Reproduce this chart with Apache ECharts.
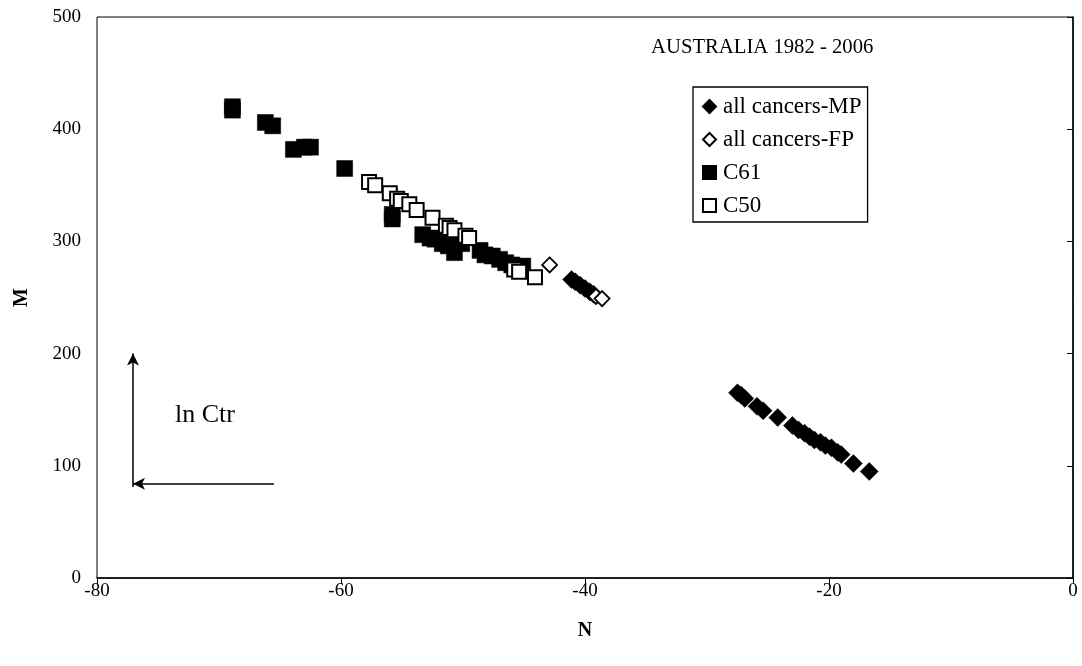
<!DOCTYPE html>
<html>
<head>
<meta charset="utf-8">
<script src="https://cdn.jsdelivr.net/npm/echarts@6/dist/echarts.min.js"></script>
<style>html,body{margin:0;padding:0;background:#fff}#c{width:1082px;height:666px}</style>
</head>
<body>
<div id="c"></div>
<script>
// Data: [N, M]
const allCancersMP = [
  [-41.1,266],[-40.8,264],[-40.4,261],[-40.0,258],[-39.6,255],[-39.3,253],
  [-27.5,165],[-27.2,163],[-26.9,160],[-25.9,153],[-25.4,149],[-24.2,143],[-23.0,136],
  [-22.5,132],[-22.0,129],[-21.6,126],[-21.2,123],[-20.7,121],[-20.3,118],[-19.8,116],
  [-19.3,112],[-19.0,110],[-18.0,102],[-16.7,95]
];
const allCancersFP = [[-42.9,279],[-39.1,251],[-38.6,249]];
const c61 = [
  [-68.9,420],[-68.9,417],[-66.2,406],[-65.6,403],[-63.9,382],[-63.0,384],[-62.5,384],
  [-59.7,365],[-55.8,324],[-55.8,320],[-53.3,306],[-52.7,303],[-52.3,302],[-51.7,298],
  [-51.2,296],[-50.7,290],[-50.1,298],[-48.6,292],[-48.2,288],[-47.6,287],[-47.0,284],
  [-46.5,281],[-46.0,279],[-45.5,276],[-45.1,278]
];
const c50 = [
  [-57.7,353],[-57.2,350],[-56.0,343],[-55.4,338],[-55.1,336],[-54.4,333],[-53.8,328],
  [-52.5,321],[-51.4,314],[-51.1,312],[-50.7,310],[-49.8,305],[-49.5,303],
  [-45.8,275],[-45.4,273],[-44.1,268]
];
const xTicks = {min:-80, max:0, interval:20};
const yTicks = {min:0, max:500, interval:100};
const titleText = 'AUSTRALIA 1982 - 2006';
const annotText = 'ln Ctr';
const arrowV = [[-77.05, 81],[-77.05, 200]];
const arrowH = [[-65.5, 84],[-77.05, 84]];

const font = 'Liberation Serif, Times New Roman, serif';
const chart = echarts.init(document.getElementById('c'), null, {renderer:'canvas'});
chart.setOption({
  animation:false,
  backgroundColor:'#fff',
  textStyle:{fontFamily:font},
  title:{text:titleText, left:646, top:32,
    textStyle:{fontFamily:font, fontWeight:'normal', fontSize:20.7, color:'#000'}},
  legend:{
    orient:'vertical', left:693, top:87,
    padding:[8,6,5,9], itemGap:10, itemWidth:13, itemHeight:13,
    borderColor:'#000', borderWidth:1.3, backgroundColor:'#fff',
    textStyle:{fontFamily:font, fontSize:23, lineHeight:22, color:'#000', padding:[0,0,0,2]},
    data:['all cancers-MP','all cancers-FP','C61','C50']
  },
  grid:{left:97, right:9, top:17, bottom:88, show:true, borderColor:'#000', borderWidth:1,
    containLabel:false, outerBoundsMode:'none'},
  xAxis:{type:'value', min:xTicks.min, max:xTicks.max, interval:xTicks.interval,
    name:'N', nameLocation:'middle', nameGap:43,
    nameTextStyle:{fontFamily:font, fontWeight:'bold', fontSize:20, color:'#000'},
    axisLine:{onZero:false, lineStyle:{color:'#000', width:1.5}},
    axisTick:{show:true, inside:false, length:6, lineStyle:{color:'#000'}},
    axisLabel:{fontFamily:font, fontSize:19, color:'#000', margin:4},
    splitLine:{show:false}},
  yAxis:{type:'value', min:yTicks.min, max:yTicks.max, interval:yTicks.interval,
    name:'M', nameLocation:'middle', nameGap:65, nameRotate:90,
    nameTextStyle:{fontFamily:font, fontWeight:'bold', fontSize:20, color:'#000'},
    axisLine:{show:true, lineStyle:{color:'#000', width:1.5}},
    axisTick:{show:true, length:6, lineStyle:{color:'#000'}},
    axisLabel:{fontFamily:font, fontSize:19, color:'#000', margin:16},
    splitLine:{show:false}},
  series:[
    {name:'all cancers-MP', type:'scatter', data:allCancersMP, symbol:'diamond', symbolSize:18,
      itemStyle:{color:'#000', opacity:1, borderColor:'#000', borderWidth:0.5}},
    {name:'all cancers-FP', type:'scatter', data:allCancersFP, symbol:'diamond', symbolSize:15,
      itemStyle:{color:'#fff', opacity:1, borderColor:'#000', borderWidth:1.8}},
    {name:'C61', type:'scatter', data:c61, symbol:'rect', symbolSize:16,
      itemStyle:{color:'#000', opacity:1, borderColor:'#000', borderWidth:0.5},
      markLine:{silent:true, symbol:['none','arrow'], symbolSize:[9,12],
        lineStyle:{color:'#000', width:1.5, type:'solid'}, label:{show:false},
        data:[
          [{coord:arrowV[0]},{coord:arrowV[1]}],
          [{coord:arrowH[0]},{coord:arrowH[1]}]
        ]},
      markPoint:{silent:true, symbol:'circle', symbolSize:1, itemStyle:{color:'rgba(0,0,0,0)'},
        label:{show:true, formatter:annotText, fontFamily:font, fontSize:26, color:'#000', position:'inside'},
        data:[{coord:[-71.15, 145]}]}
    },
    {name:'C50', type:'scatter', data:c50, symbol:'rect', symbolSize:14,
      itemStyle:{color:'#fff', opacity:1, borderColor:'#000', borderWidth:2}}
  ]
});
</script>
</body>
</html>
